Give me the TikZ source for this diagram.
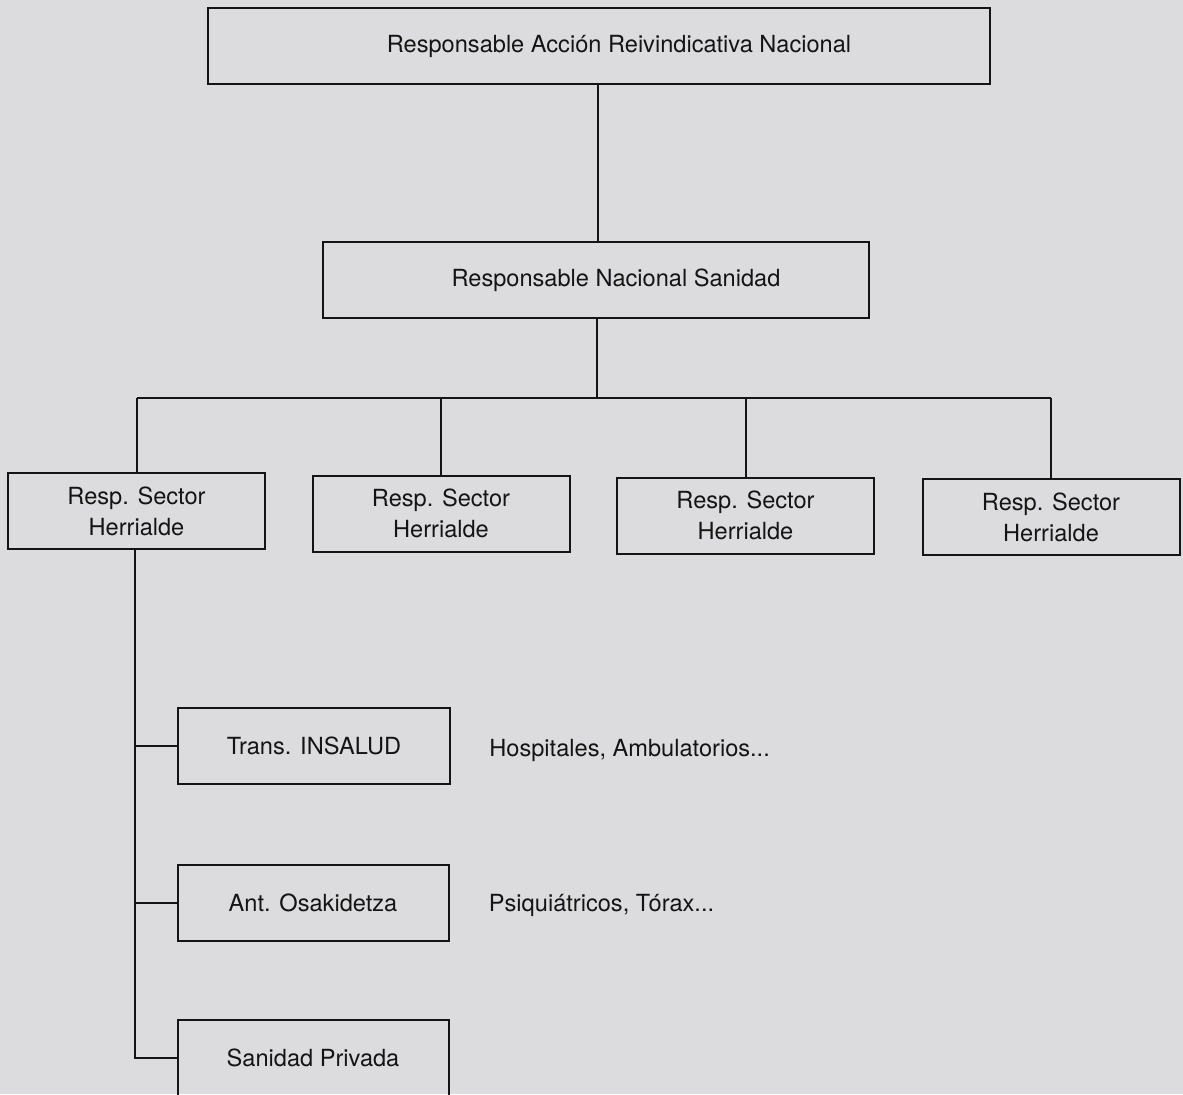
\documentclass[tikz,border=0pt]{standalone}
\usepackage{fontspec}
\setmainfont{TeX Gyre Heros}
\usepackage{tikz}
\usetikzlibrary{positioning}

\definecolor{paper}{HTML}{DCDCDE}
\definecolor{ink}{HTML}{141414}

\begin{document}
\begin{tikzpicture}[
    x=0.5pt, y=-0.5pt,
    box/.style={
        draw=ink,
        line width=1pt,
        rectangle,
        minimum height=38pt,
        align=center,
        inner sep=0pt,
        text=ink,
        font=\fontsize{11.8}{15.5}\selectfont
    },
    sector/.style={box, minimum width=128.5pt},
    sub/.style={box, minimum width=135.5pt},
    note/.style={inner sep=0pt, anchor=west, text=ink, font=\fontsize{11.8}{15.5}\selectfont},
    link/.style={draw=ink, line width=1pt}
]

% Page
\useasboundingbox[fill=paper] (0,0) rectangle (1183,1094);
\clip (0,0) rectangle (1183,1094);

% Top levels (text sits a little right of centre)
\node[box, minimum width=391pt] (top) at (599,46) {\hspace*{20pt}Responsable Acción Reivindicativa Nacional};

\node[box, minimum width=273pt] (nat) at (596,280) {\hspace*{20pt}Responsable Nacional Sanidad};

% Sectors
\node[sector] (s1) at (136.5,511) {Resp. Sector\\Herrialde};
\node[sector] (s2) at (441,513.5) {Resp. Sector\\Herrialde};
\node[sector] (s3) at (745.5,515.5) {Resp. Sector\\Herrialde};
\node[sector] (s4) at (1051,517) {Resp. Sector\\Herrialde};

% Sub-sectors
\node[sub, minimum width=136pt] (ins) at (314,746) {Trans. INSALUD};
\node[sub] (osa) at (313,903) {Ant. Osakidetza};
\node[sub] (priv) at (313,1058) {Sanidad Privada};

\node[note, right=19pt of ins, yshift=-2pt] (hosp) {Hospitales, Ambulatorios...};
\node[note, right=19.5pt of osa, yshift=-1pt] (psiq) {Psiquiátricos, Tórax...};

% Lines
\coordinate (bus) at (597,398);

\draw[link] (top.south -| 598,0) -- (nat.north -| 598,0);
\draw[link] (nat.south -| bus) -- (bus);
\draw[link] (s1.north |- bus) -- (s4.north |- bus);
\foreach \s in {s1,s2,s3,s4}
    \draw[link] (\s.north |- bus) -- (\s.north);

\draw[link] (s1.south -| 135,0) |- (priv.west);
\draw[link] (ins.west -| 135,0) -- (ins.west);
\draw[link] (osa.west -| 135,0) -- (osa.west);

\end{tikzpicture}
\end{document}
